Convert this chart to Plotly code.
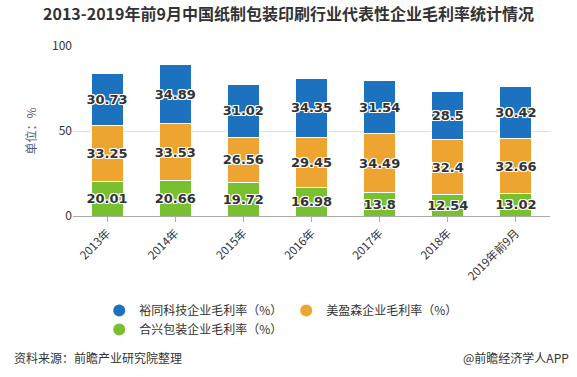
import plotly.graph_objects as go

categories = ["2013年", "2014年", "2015年", "2016年", "2017年", "2018年", "2019年前9月"]
yutong = [30.73, 34.89, 31.02, 34.35, 31.54, 28.5, 30.42]
meiyingsen = [33.25, 33.53, 26.56, 29.45, 34.49, 32.4, 32.66]
hexing = [20.01, 20.66, 19.72, 16.98, 13.8, 12.54, 13.02]

names = ["合兴包装企业毛利率（%）", "美盈森企业毛利率（%）", "裕同科技企业毛利率（%）"]
colors = ["#78c02f", "#eea431", "#1d72c0"]
series = [hexing, meiyingsen, yutong]

font_family = "Microsoft YaHei, Noto Sans CJK SC, sans-serif"
shadow = "1px 1px 0 #fff, -1px -1px 0 #fff, 1px -1px 0 #fff, -1px 1px 0 #fff, 0 1px 0 #fff, 1px 0 0 #fff, -1px 0 0 #fff, 0 -1px 0 #fff"

fig = go.Figure()
for name, col, vals in zip(names, colors, series):
    fig.add_trace(go.Bar(
        x=categories, y=vals, name=name, showlegend=False,
        marker=dict(color=col, line=dict(color="#ffffff", width=1)),
        text=[f"{v:g}" for v in vals],
        textposition="inside", insidetextanchor="middle", textangle=0,
        constraintext="none",
        textfont=dict(size=13, color="#333333", family="DejaVu Sans, sans-serif",
                      weight="bold", shadow=shadow),
        cliponaxis=False,
    ))

# legend entries with circle markers
for name, col in zip(names, colors):
    fig.add_trace(go.Scatter(
        x=[None], y=[None], mode="markers", name=name,
        marker=dict(symbol="circle", size=15, color=col),
        showlegend=True, hoverinfo="skip",
    ))

fig.update_layout(
    barmode="stack",
    bargap=0.53,
    width=577, height=377,
    margin=dict(l=73, r=27, t=46, b=161),
    paper_bgcolor="#ffffff", plot_bgcolor="#ffffff",
    font=dict(family=font_family, size=12, color="#333333"),
    title=dict(text="<b>2013-2019年前9月中国纸制包装印刷行业代表性企业毛利率统计情况</b>",
               x=0.5, xanchor="center", y=0.963, yanchor="middle",
               font=dict(size=16, color="#333333")),
    showlegend=True,
    legend=dict(orientation="h", traceorder="reversed",
                x=0.055, xanchor="left", y=-0.47, yanchor="top",
                entrywidth=142, entrywidthmode="pixels",
                font=dict(size=12, color="#333333"),
                itemsizing="constant", tracegroupgap=0),
    xaxis=dict(showline=True, linecolor="#aaaaaa", linewidth=1,
               ticks="outside", ticklen=5, tickcolor="#aaaaaa",
               tickangle=-45, tickfont=dict(size=11.5, color="#333333"),
               showgrid=False),
    yaxis=dict(range=[0, 100], tickvals=[0, 50, 100], showgrid=True,
               gridcolor="#dddddd", zeroline=False, showline=False,
               tickfont=dict(size=12, color="#333333"),
               title=dict(text="单位：%", font=dict(size=12, color="#5a5a7a"), standoff=12)),
    annotations=[
        dict(text="资料来源：前瞻产业研究院整理", xref="paper", yref="paper",
             x=-0.127, y=-0.83, xanchor="left", yanchor="middle", showarrow=False,
             font=dict(size=12, color="#333333")),
        dict(text="@前瞻经济学人APP", xref="paper", yref="paper",
             x=1.045, y=-0.83, xanchor="right", yanchor="middle", showarrow=False,
             font=dict(size=12, color="#333333")),
    ],
)

fig.write_html("out.html", config={"displayModeBar": False},
               post_script="document.body.style.margin='0';")
